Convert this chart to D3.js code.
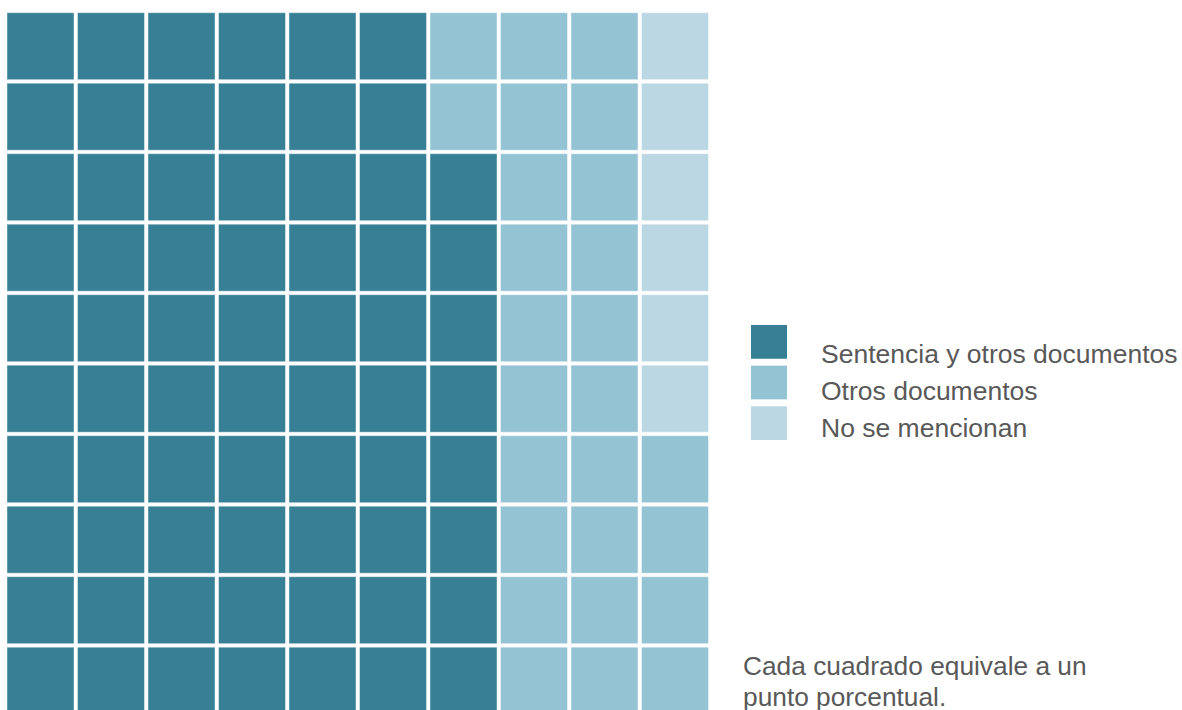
<!DOCTYPE html>
<html>
<head>
<meta charset="utf-8">
<script src="https://cdn.jsdelivr.net/npm/d3@7"></script>
<style>
    body { margin: 0; background: #ffffff; }
    svg text { font-family: "Liberation Sans", Arial, sans-serif; fill: #595959; }
</style>
</head>
<body>
<div id="chart"></div>
<script>
// Data
var categories = ["Sentencia y otros documentos", "Otros documentos", "No se mencionan"];
var values = [68, 26, 6];
var colors = ["#367f95", "#94c3d4", "#bbd7e3"];
var note = ["Cada cuadrado equivale a un", "punto porcentual."];

var width = 1182, height = 710;
var nCols = 10, nRows = 10;

var svg = d3.select("#chart")
    .append("svg")
    .attr("width", width)
    .attr("height", height);

// one cell per percentage point, filled column by column from the bottom
var cells = [];
values.forEach(function (v, i) {
    for (var k = 0; k < v; k++) cells.push(i);
});
cells = cells.map(function (cat, idx) {
    return {cat: cat, col: Math.floor(idx / nRows), row: nRows - 1 - (idx % nRows)};
});

var x = d3.scaleBand()
    .domain(d3.range(nCols))
    .range([7, 708.5])
    .paddingInner(0.0496)
    .paddingOuter(0);

var y = d3.scaleBand()
    .domain(d3.range(nRows))
    .range([12.7, 714.2])
    .paddingInner(0.0496)
    .paddingOuter(0);

svg.append("g").selectAll("rect")
    .data(cells)
    .join("rect")
    .attr("x", function (d) { return x(d.col); })
    .attr("y", function (d) { return y(d.row); })
    .attr("width", x.bandwidth())
    .attr("height", y.bandwidth())
    .attr("fill", function (d) { return colors[d.cat]; })
    .attr("stroke", "#ffffff")
    .attr("stroke-opacity", 0.45)
    .attr("stroke-width", 1);

// Legend
var legend = svg.append("g")
    .attr("transform", "translate(751,325)");

var legendY = d3.scaleBand()
    .domain(d3.range(categories.length))
    .range([0, 115])
    .paddingInner(0.17);

legend.selectAll("rect")
    .data(categories)
    .join("rect")
    .attr("x", 0)
    .attr("y", function (d, i) { return legendY(i); })
    .attr("width", 36)
    .attr("height", legendY.bandwidth())
    .attr("fill", function (d, i) { return colors[i]; });

legend.selectAll("text")
    .data(categories)
    .join("text")
    .attr("x", 70)
    .attr("y", function (d, i) { return 38 + i * 37; })
    .style("font-size", "26.5px")
    .text(function (d) { return d; });

// Note
svg.append("g").selectAll("text")
    .data(note)
    .join("text")
    .attr("x", 743)
    .attr("y", function (d, i) { return 675 + i * 30.5; })
    .style("font-size", "26.3px")
    .text(function (d) { return d; });
</script>
</body>
</html>
